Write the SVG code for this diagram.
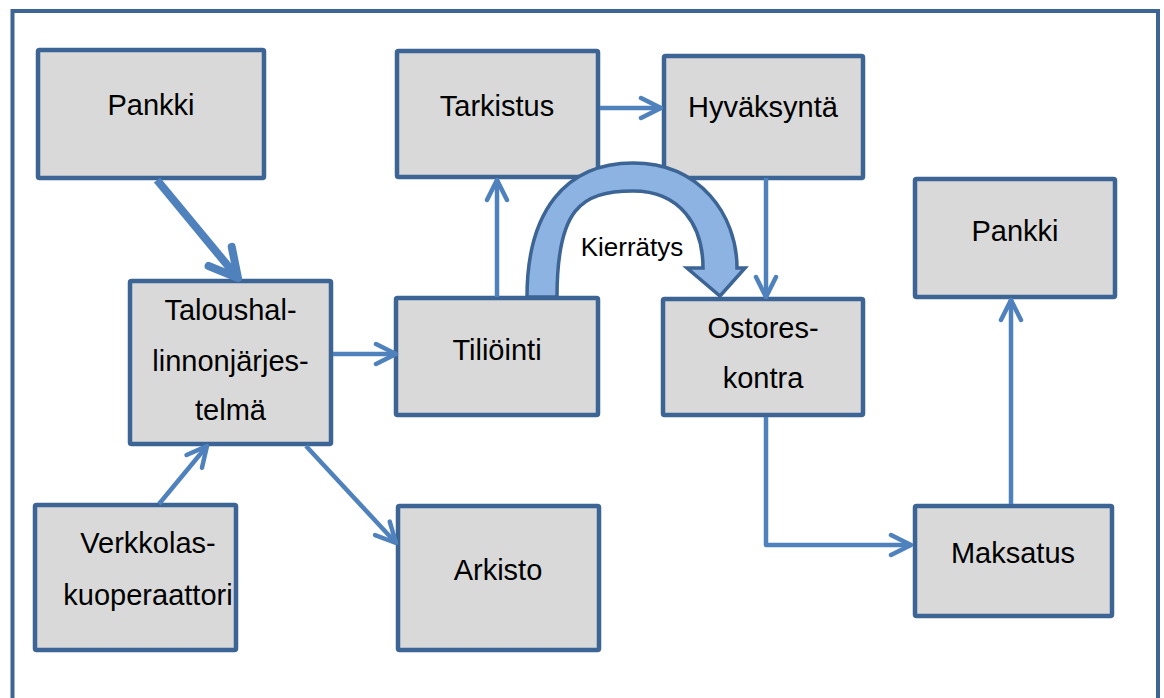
<svg xmlns="http://www.w3.org/2000/svg" width="1164" height="698" viewBox="0 0 1164 698">
  <style>
    .box { fill: #d9d9d9; stroke: #3c6494; stroke-width: 4.5; }
    .lbl { font-family: "Liberation Sans", Arial, sans-serif; font-size: 29px; fill: #000; text-anchor: middle; }
    .conn { fill: none; stroke: #4f81bd; stroke-width: 4.5; stroke-linejoin: round; }
    .thick { stroke-width: 8; }
    .cycle { fill: #8db3e2; stroke: #3c6494; stroke-width: 3.5; stroke-linejoin: miter; }
    .cyclbl { font-family: "Liberation Sans", Arial, sans-serif; font-size: 26px; fill: #000; text-anchor: middle; }
  </style>
  <defs>
    <marker id="chev" viewBox="0 0 26 26" refX="23" refY="13" markerWidth="26" markerHeight="26" markerUnits="userSpaceOnUse" orient="auto">
      <path d="M3,3 L23,13 L3,23" fill="none" stroke="#4f81bd" stroke-width="4.5" stroke-linecap="round" stroke-linejoin="round"/>
    </marker>
    <marker id="chevBig" viewBox="0 0 40 40" refX="34" refY="20" markerWidth="40" markerHeight="40" markerUnits="userSpaceOnUse" orient="auto">
      <path d="M6,5 L34,20 L6,35" fill="none" stroke="#4f81bd" stroke-width="8" stroke-linecap="round" stroke-linejoin="round"/>
    </marker>
  </defs>

  <rect width="1164" height="698" fill="#ffffff"/>
  <!-- outer frame -->
  <rect x="12.5" y="11" width="1145.5" height="720" fill="none" stroke="#3c6494" stroke-width="4"/>

  <g id="pankki-1">
    <rect class="box" x="38" y="50" width="226" height="128" rx="1.5"/>
    <text class="lbl" x="151" y="115">Pankki</text>
  </g>
  <g id="tarkistus">
    <rect class="box" x="397" y="51" width="201" height="126" rx="1.5"/>
    <text class="lbl" x="497" y="116">Tarkistus</text>
  </g>
  <g id="hyvaksynta">
    <rect class="box" x="664" y="56" width="199" height="122" rx="1.5"/>
    <text class="lbl" x="763" y="117">Hyväksyntä</text>
  </g>
  <g id="taloushallinto">
    <rect class="box" x="130" y="281" width="201" height="163" rx="1.5"/>
    <text class="lbl" x="230.5" y="320">Taloushal-</text>
    <text class="lbl" x="230.5" y="371">linnonjärjes-</text>
    <text class="lbl" x="230.5" y="420">telmä</text>
  </g>
  <g id="tiliointi">
    <rect class="box" x="396" y="298" width="202" height="117" rx="1.5"/>
    <text class="lbl" x="497" y="360">Tiliöinti</text>
  </g>
  <g id="ostoreskontra">
    <rect class="box" x="663" y="299" width="200" height="116" rx="1.5"/>
    <text class="lbl" x="763" y="338">Ostores-</text>
    <text class="lbl" x="763" y="388">kontra</text>
  </g>
  <g id="pankki-2">
    <rect class="box" x="915" y="179" width="200" height="118" rx="1.5"/>
    <text class="lbl" x="1015" y="241">Pankki</text>
  </g>
  <g id="maksatus">
    <rect class="box" x="915" y="506" width="197" height="110" rx="1.5"/>
    <text class="lbl" x="1013" y="563">Maksatus</text>
  </g>
  <g id="verkkolaskuoperaattori">
    <rect class="box" x="35" y="505" width="201" height="145" rx="1.5"/>
    <text class="lbl" x="148" y="553">Verkkolas-</text>
    <text class="lbl" x="148" y="605">kuoperaattori</text>
  </g>
  <g id="arkisto">
    <rect class="box" x="398" y="506" width="201" height="144" rx="1.5"/>
    <text class="lbl" x="498" y="580">Arkisto</text>
  </g>

  <g id="connectors">
    <path class="conn thick" d="M157,180 L238,278" marker-end="url(#chevBig)"/>
    <path class="conn" d="M333,354 L396,354" marker-end="url(#chev)"/>
    <path class="conn" d="M497,297 L497,180" marker-end="url(#chev)"/>
    <path class="conn" d="M600,108 L661,108" marker-end="url(#chev)"/>
    <path class="conn" d="M766,178 L766,297" marker-end="url(#chev)"/>
    <path class="conn" d="M766,417 L766,545 L911,545" marker-end="url(#chev)"/>
    <path class="conn" d="M1011,504 L1011,300" marker-end="url(#chev)"/>
    <path class="conn" d="M159,504 L207,446" marker-end="url(#chev)"/>
    <path class="conn" d="M306,446 L396,543" marker-end="url(#chev)"/>
    <!-- curved block arrow: recycling loop from Tiliöinti to Ostoreskontra -->
    <path class="cycle" d="M527,297 C527,212 565,163 633,163 C700,163 737,215 737,268 L745,268 L720,296 L687,268 L703,268 C703,225 680,191 633,191 C580,191 557,210 557,297 Z"/>
    <text class="cyclbl" x="632" y="256">Kierrätys</text>
  </g>
</svg>
